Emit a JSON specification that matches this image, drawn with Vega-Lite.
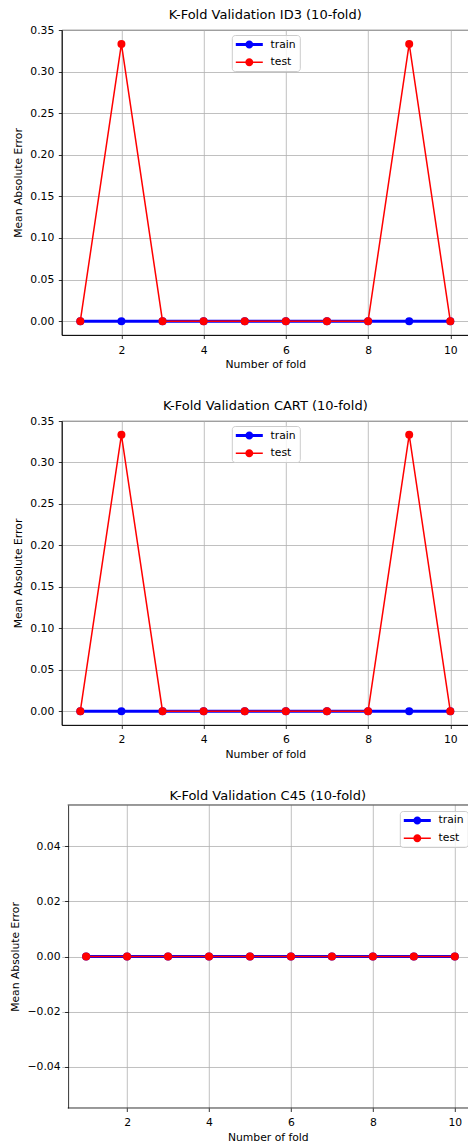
{
  "$schema": "https://vega.github.io/schema/vega-lite/v6.json",
  "padding": {"left": 8.8, "top": 8, "right": 0, "bottom": 0},
  "spacing": 29,
  "datasets": {
    "id3": [
      {"fold": 1, "series": "train", "mae": 0}, {"fold": 2, "series": "train", "mae": 0}, {"fold": 3, "series": "train", "mae": 0}, {"fold": 4, "series": "train", "mae": 0}, {"fold": 5, "series": "train", "mae": 0},
      {"fold": 6, "series": "train", "mae": 0}, {"fold": 7, "series": "train", "mae": 0}, {"fold": 8, "series": "train", "mae": 0}, {"fold": 9, "series": "train", "mae": 0}, {"fold": 10, "series": "train", "mae": 0},
      {"fold": 1, "series": "test", "mae": 0}, {"fold": 2, "series": "test", "mae": 0.3333}, {"fold": 3, "series": "test", "mae": 0}, {"fold": 4, "series": "test", "mae": 0}, {"fold": 5, "series": "test", "mae": 0},
      {"fold": 6, "series": "test", "mae": 0}, {"fold": 7, "series": "test", "mae": 0}, {"fold": 8, "series": "test", "mae": 0}, {"fold": 9, "series": "test", "mae": 0.3333}, {"fold": 10, "series": "test", "mae": 0}
    ],
    "cart": [
      {"fold": 1, "series": "train", "mae": 0}, {"fold": 2, "series": "train", "mae": 0}, {"fold": 3, "series": "train", "mae": 0}, {"fold": 4, "series": "train", "mae": 0}, {"fold": 5, "series": "train", "mae": 0},
      {"fold": 6, "series": "train", "mae": 0}, {"fold": 7, "series": "train", "mae": 0}, {"fold": 8, "series": "train", "mae": 0}, {"fold": 9, "series": "train", "mae": 0}, {"fold": 10, "series": "train", "mae": 0},
      {"fold": 1, "series": "test", "mae": 0}, {"fold": 2, "series": "test", "mae": 0.3333}, {"fold": 3, "series": "test", "mae": 0}, {"fold": 4, "series": "test", "mae": 0}, {"fold": 5, "series": "test", "mae": 0},
      {"fold": 6, "series": "test", "mae": 0}, {"fold": 7, "series": "test", "mae": 0}, {"fold": 8, "series": "test", "mae": 0}, {"fold": 9, "series": "test", "mae": 0.3333}, {"fold": 10, "series": "test", "mae": 0}
    ],
    "c45": [
      {"fold": 1, "series": "train", "mae": 0}, {"fold": 2, "series": "train", "mae": 0}, {"fold": 3, "series": "train", "mae": 0}, {"fold": 4, "series": "train", "mae": 0}, {"fold": 5, "series": "train", "mae": 0},
      {"fold": 6, "series": "train", "mae": 0}, {"fold": 7, "series": "train", "mae": 0}, {"fold": 8, "series": "train", "mae": 0}, {"fold": 9, "series": "train", "mae": 0}, {"fold": 10, "series": "train", "mae": 0},
      {"fold": 1, "series": "test", "mae": 0}, {"fold": 2, "series": "test", "mae": 0}, {"fold": 3, "series": "test", "mae": 0}, {"fold": 4, "series": "test", "mae": 0}, {"fold": 5, "series": "test", "mae": 0},
      {"fold": 6, "series": "test", "mae": 0}, {"fold": 7, "series": "test", "mae": 0}, {"fold": 8, "series": "test", "mae": 0}, {"fold": 9, "series": "test", "mae": 0}, {"fold": 10, "series": "test", "mae": 0}
    ],
    "c45frame": [
      {"edge": "top", "x0": 0.55, "x1": 10.464, "y": 0.055},
      {"edge": "bottom", "x0": 0.55, "x1": 10.464, "y": -0.055}
    ]
  },
  "vconcat": [
    {
      "title": "K-Fold Validation ID3 (10-fold)",
      "width": 407, "height": 305,
      "data": {"name": "id3"},
      "encoding": {
        "x": {"field": "fold", "type": "quantitative", "title": "Number of fold", "scale": {"domain": [0.55, 10.45], "nice": false, "zero": false}, "axis": {"values": [2, 4, 6, 8, 10], "format": "d"}},
        "y": {"field": "mae", "type": "quantitative", "title": "Mean Absolute Error", "scale": {"domain": [-0.016667, 0.35], "nice": false, "zero": false}, "axis": {"values": [0, 0.05, 0.1, 0.15, 0.2, 0.25, 0.3, 0.35], "format": ".2f"}},
        "color": {"field": "series", "type": "nominal", "scale": {"domain": ["train", "test"], "range": ["#0000ff", "#ff0000"]},
          "legend": {"title": null, "orient": "none", "legendX": 170, "legendY": 5,
            "encode": {"symbols": {"update": {
              "fill": {"signal": "datum.value == 'train' ? '#0000ff' : '#ff0000'"},
              "stroke": {"value": "transparent"}, "strokeWidth": {"value": 0}, "opacity": {"value": 1},
              "shape": {"signal": "datum.value == 'train' ? 'M-2.4545,-0.273H2.4545V0.273H-2.4545Z M0.727,0A0.727,0.727,0,1,1,-0.727,0A0.727,0.727,0,1,1,0.727,0Z' : 'M-2.4545,-0.136H2.4545V0.136H-2.4545Z M0.727,0A0.727,0.727,0,1,1,-0.727,0A0.727,0.727,0,1,1,0.727,0Z'"}}}}}}
      },
      "layer": [
        {"transform": [{"filter": "datum.series == 'train'"}], "mark": {"type": "line", "strokeWidth": 3}},
        {"transform": [{"filter": "datum.series == 'train'"}], "mark": {"type": "point", "filled": true, "size": 64, "opacity": 1}},
        {"transform": [{"filter": "datum.series == 'test'"}], "mark": {"type": "line", "strokeWidth": 1.5}},
        {"transform": [{"filter": "datum.series == 'test'"}], "mark": {"type": "point", "filled": true, "size": 64, "opacity": 1}}
      ]
    },
    {
      "title": "K-Fold Validation CART (10-fold)",
      "width": 407, "height": 304,
      "data": {"name": "cart"},
      "encoding": {
        "x": {"field": "fold", "type": "quantitative", "title": "Number of fold", "scale": {"domain": [0.55, 10.45], "nice": false, "zero": false}, "axis": {"values": [2, 4, 6, 8, 10], "format": "d"}},
        "y": {"field": "mae", "type": "quantitative", "title": "Mean Absolute Error", "scale": {"domain": [-0.016667, 0.35], "nice": false, "zero": false}, "axis": {"values": [0, 0.05, 0.1, 0.15, 0.2, 0.25, 0.3, 0.35], "format": ".2f"}},
        "color": {"field": "series", "type": "nominal", "scale": {"domain": ["train", "test"], "range": ["#0000ff", "#ff0000"]},
          "legend": {"title": null, "orient": "none", "legendX": 170, "legendY": 5,
            "encode": {"symbols": {"update": {
              "fill": {"signal": "datum.value == 'train' ? '#0000ff' : '#ff0000'"},
              "stroke": {"value": "transparent"}, "strokeWidth": {"value": 0}, "opacity": {"value": 1},
              "shape": {"signal": "datum.value == 'train' ? 'M-2.4545,-0.273H2.4545V0.273H-2.4545Z M0.727,0A0.727,0.727,0,1,1,-0.727,0A0.727,0.727,0,1,1,0.727,0Z' : 'M-2.4545,-0.136H2.4545V0.136H-2.4545Z M0.727,0A0.727,0.727,0,1,1,-0.727,0A0.727,0.727,0,1,1,0.727,0Z'"}}}}}}
      },
      "layer": [
        {"transform": [{"filter": "datum.series == 'train'"}], "mark": {"type": "line", "strokeWidth": 3}},
        {"transform": [{"filter": "datum.series == 'train'"}], "mark": {"type": "point", "filled": true, "size": 64, "opacity": 1}},
        {"transform": [{"filter": "datum.series == 'test'"}], "mark": {"type": "line", "strokeWidth": 1.5}},
        {"transform": [{"filter": "datum.series == 'test'"}], "mark": {"type": "point", "filled": true, "size": 64, "opacity": 1}}
      ]
    },
    {
      "title": "K-Fold Validation C45 (10-fold)",
      "width": 412, "height": 303,
      "view": {"stroke": null},
      "layer": [
        {
          "data": {"name": "c45frame"},
          "mark": {"type": "rule", "color": "#000000", "strokeWidth": 0.8},
          "encoding": {
            "x": {"field": "x0", "type": "quantitative", "title": "Number of fold", "scale": {"domain": [0.406, 10.464], "nice": false, "zero": false}, "axis": {"values": [2, 4, 6, 8, 10], "format": "d", "domain": false}},
            "x2": {"field": "x1"},
            "y": {"field": "y", "type": "quantitative", "title": "Mean Absolute Error", "scale": {"domain": [-0.055, 0.055], "nice": false, "zero": false}, "axis": {"values": [-0.04, -0.02, 0, 0.02, 0.04], "format": ".2f", "titlePadding": 6.6, "offset": -6.3}}
          }
        },
        {
          "data": {"name": "c45"},
          "encoding": {
            "x": {"field": "fold", "type": "quantitative"},
            "y": {"field": "mae", "type": "quantitative"},
            "color": {"field": "series", "type": "nominal", "scale": {"domain": ["train", "test"], "range": ["#0000ff", "#ff0000"]},
              "legend": {"title": null, "orient": "none", "legendX": 338, "legendY": 6,
                "encode": {"symbols": {"update": {
                  "fill": {"signal": "datum.value == 'train' ? '#0000ff' : '#ff0000'"},
                  "stroke": {"value": "transparent"}, "strokeWidth": {"value": 0}, "opacity": {"value": 1},
                  "shape": {"signal": "datum.value == 'train' ? 'M-2.4545,-0.273H2.4545V0.273H-2.4545Z M0.727,0A0.727,0.727,0,1,1,-0.727,0A0.727,0.727,0,1,1,0.727,0Z' : 'M-2.4545,-0.136H2.4545V0.136H-2.4545Z M0.727,0A0.727,0.727,0,1,1,-0.727,0A0.727,0.727,0,1,1,0.727,0Z'"}}}}}}
          },
          "layer": [
            {"transform": [{"filter": "datum.series == 'train'"}], "mark": {"type": "line", "strokeWidth": 3}},
            {"transform": [{"filter": "datum.series == 'train'"}], "mark": {"type": "point", "filled": true, "size": 64, "opacity": 1}},
            {"transform": [{"filter": "datum.series == 'test'"}], "mark": {"type": "line", "strokeWidth": 1.5}},
            {"transform": [{"filter": "datum.series == 'test'"}], "mark": {"type": "point", "filled": true, "size": 64, "opacity": 1}}
          ]
        }
      ]
    }
  ],
  "resolve": {"scale": {"color": "independent"}, "legend": {"color": "independent"}},
  "config": {
    "font": "DejaVu Sans",
    "view": {"stroke": "#000000", "strokeWidth": 0.8},
    "axis": {"grid": true, "gridColor": "#b0b0b0", "gridWidth": 0.8, "gridOpacity": 1, "domainColor": "#000000", "domainWidth": 0.8, "tickColor": "#000000", "tickWidth": 0.8, "tickSize": 3.5, "labelFont": "DejaVu Sans", "labelFontSize": 10.8, "labelColor": "#000000", "labelFlush": false, "labelOverlap": false, "titleFont": "DejaVu Sans", "titleFontSize": 10.8, "titleFontWeight": "normal", "titleColor": "#000000"},
    "axisY": {"titlePadding": 6, "labelPadding": 4.5},
    "axisX": {"titlePadding": 3.5, "labelPadding": 5.5},
    "title": {"font": "DejaVu Sans", "fontSize": 13, "fontWeight": "normal", "color": "#000000", "offset": 2, "anchor": "middle"},
    "legend": {"symbolSize": 121, "symbolStrokeWidth": 0, "symbolOffset": 8, "labelFont": "DejaVu Sans", "labelFontSize": 10.8, "labelColor": "#000000", "labelOffset": 15.8, "rowPadding": 5.7, "padding": 4, "fillColor": "rgba(255,255,255,0.8)", "strokeColor": "#cccccc", "cornerRadius": 3}
  }
}
